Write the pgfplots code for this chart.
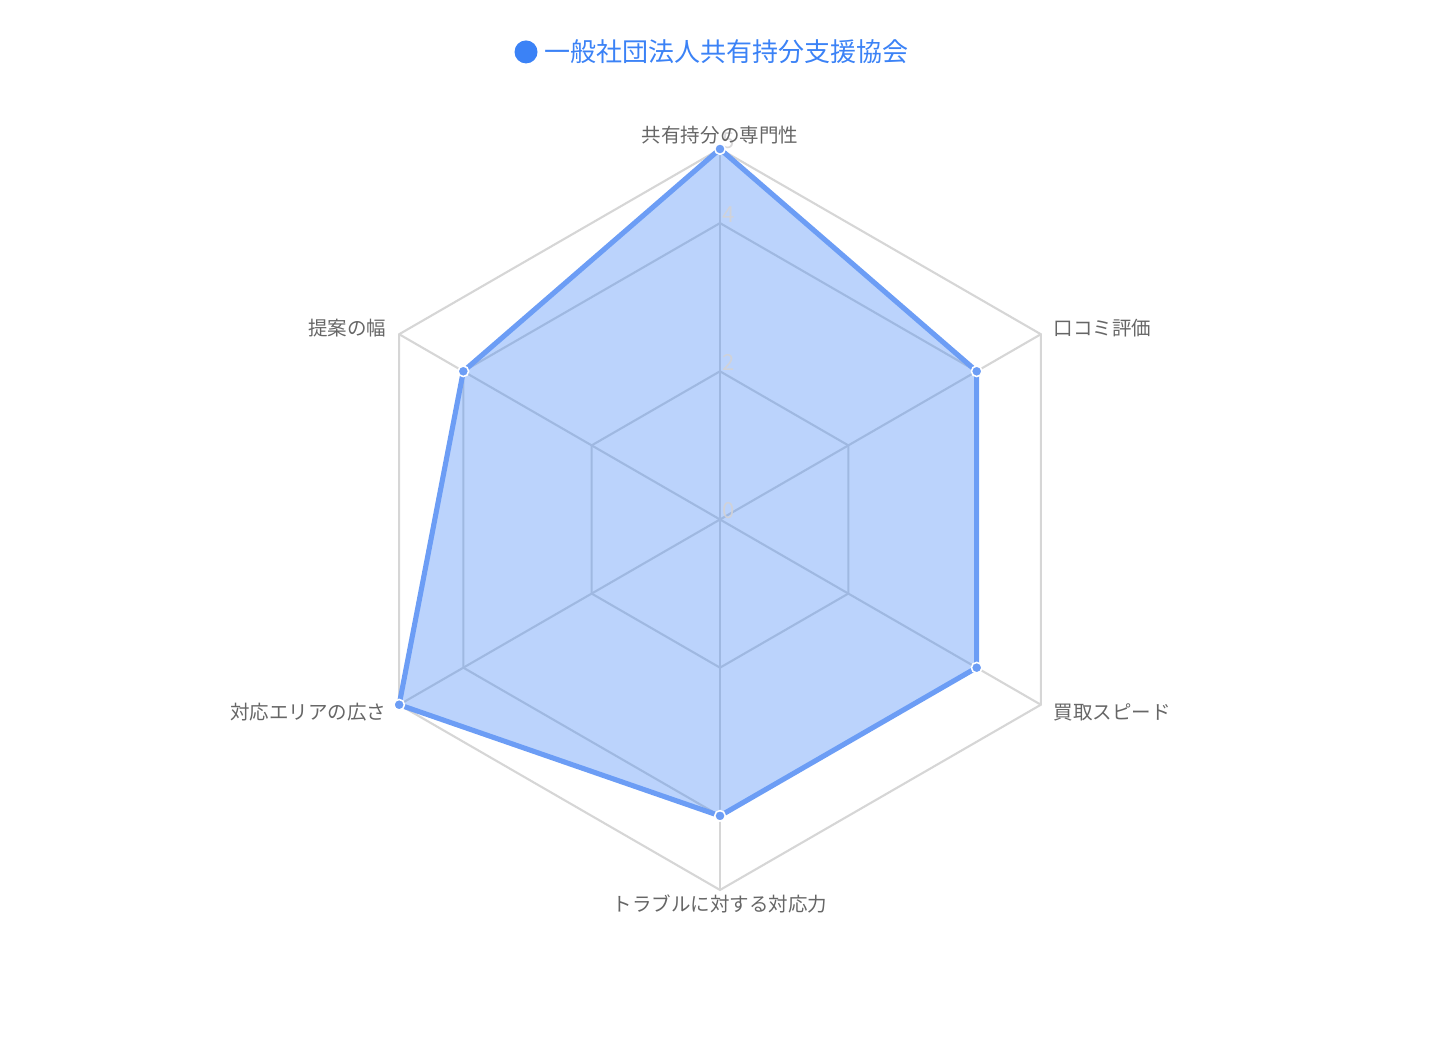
\documentclass[border=0pt]{standalone}
\usepackage{pgfplots}
\pgfplotsset{compat=1.18}
\usepackage{fontspec}
\setmainfont{Noto Sans CJK JP}
\definecolor{gridc}{RGB}{214,214,214}
\definecolor{lab}{RGB}{102,102,102}
\definecolor{blu}{RGB}{59,130,246}
\definecolor{linec}{RGB}{108,157,245}
\definecolor{tickc}{RGB}{212,210,212}
\begin{document}
\begin{tikzpicture}
\begin{axis}[
  width=14.4cm, height=10.41cm, scale only axis, hide axis, clip=false,
  xmin=-9.717, xmax=9.717, ymin=-7.038, ymax=7.011,
]
% grid rings
\addplot[gridc, line width=0.6pt, data cs=polar] coordinates {(90,2) (30,2) (-30,2) (-90,2) (-150,2) (150,2) (90,2)};
\addplot[gridc, line width=0.6pt, data cs=polar] coordinates {(90,4) (30,4) (-30,4) (-90,4) (-150,4) (150,4) (90,4)};
\addplot[gridc, line width=0.6pt, data cs=polar] coordinates {(90,5) (30,5) (-30,5) (-90,5) (-150,5) (150,5) (90,5)};
% spokes
\addplot[gridc, line width=0.6pt, data cs=polar] coordinates {(90,0) (90,5)};
\addplot[gridc, line width=0.6pt, data cs=polar] coordinates {(30,0) (30,5)};
\addplot[gridc, line width=0.6pt, data cs=polar] coordinates {(-30,0) (-30,5)};
\addplot[gridc, line width=0.6pt, data cs=polar] coordinates {(-90,0) (-90,5)};
\addplot[gridc, line width=0.6pt, data cs=polar] coordinates {(-150,0) (-150,5)};
\addplot[gridc, line width=0.6pt, data cs=polar] coordinates {(150,0) (150,5)};
% data
\addplot[draw=linec, line width=1.45pt, line join=round, fill=blu, fill opacity=0.35, draw opacity=1, data cs=polar]
  coordinates {(90,5) (30,4) (-30,4) (-90,4) (-150,5) (150,4) (90,5)};
% tick labels
\begin{scope}[every node/.style={anchor=south west, inner sep=0pt, text=tickc, opacity=0.85, font=\fontsize{6.3}{7}\selectfont}]
\node at (axis cs:0.02,0.0) {0};
\node at (axis cs:0.02,2.0) {2};
\node at (axis cs:0.02,4.0) {4};
\node at (axis cs:0.02,5.0) {5};
\end{scope}
\addplot[only marks, mark=*, mark size=1.5pt, mark options={fill=linec, draw=white, line width=0.45pt}, data cs=polar]
  coordinates {(90,5) (30,4) (-30,4) (-90,4) (-150,5) (150,4)};
% axis labels
\begin{scope}[every node/.style={text=lab, inner sep=0pt, font=\fontsize{5.55}{6}\selectfont}]
\node[anchor=center] at (axis cs:0,5.19) {共有持分の専門性};
\node[anchor=west] at (axis cs:4.494,2.584) {口コミ評価};
\node[anchor=west] at (axis cs:4.494,-2.598) {買取スピード};
\node[anchor=center] at (axis cs:0,-5.19) {トラブルに対する対応力};
\node[anchor=east] at (axis cs:-4.494,-2.598) {対応エリアの広さ};
\node[anchor=east] at (axis cs:-4.494,2.584) {提案の幅};
\end{scope}
% title legend
\fill[blu] (axis cs:-2.618,6.31) circle[radius=0.115cm];
\node[anchor=west, inner sep=0pt, text=blu, font=\fontsize{7.4}{8}\selectfont] at (axis cs:-2.38,6.32) {一般社団法人共有持分支援協会};
\end{axis}
\pgfresetboundingbox
\path[use as bounding box] (current axis.south west) rectangle (current axis.north east);
\end{tikzpicture}
\end{document}
